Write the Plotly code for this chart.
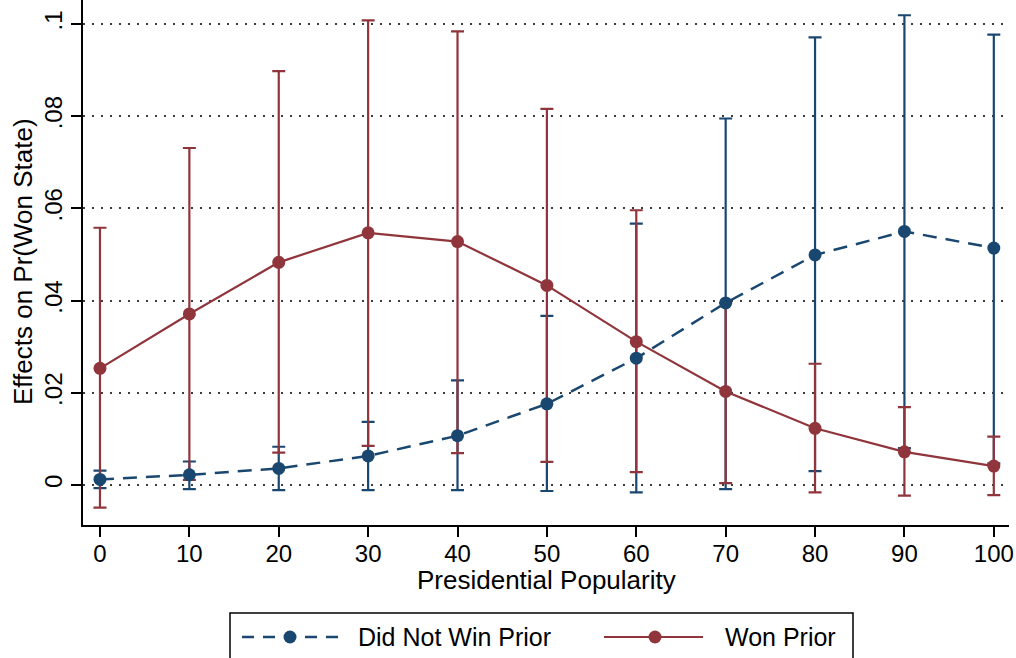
import plotly.graph_objects as go

# ---- data ----
popularity = [0, 10, 20, 30, 40, 50, 60, 70, 80, 90, 100]

notwin_est = [0.0012, 0.0022, 0.0036, 0.0063, 0.0107, 0.0176, 0.0275, 0.0395, 0.0499, 0.0550, 0.0514]
notwin_hi = [0.0031, 0.0051, 0.0083, 0.0137, 0.0227, 0.0367, 0.0567, 0.0795, 0.0971, 0.1019, 0.0977]
notwin_lo = [-0.0007, -0.0009, -0.0011, -0.0011, -0.0011, -0.0013, -0.0016, -0.0009, 0.0030, 0.0080, 0.0047]

won_est = [0.0253, 0.0371, 0.0483, 0.0547, 0.0528, 0.0433, 0.0311, 0.0203, 0.0123, 0.0072, 0.0041]
won_hi = [0.0558, 0.0731, 0.0898, 0.1008, 0.0984, 0.0816, 0.0596, 0.0395, 0.0263, 0.0169, 0.0105]
won_lo = [-0.0049, 0.0011, 0.0070, 0.0085, 0.0069, 0.0050, 0.0028, 0.0004, -0.0016, -0.0023, -0.0022]

y_ticks = [0, 0.02, 0.04, 0.06, 0.08, 0.1]
y_ticklabels = ["0", ".02", ".04", ".06", ".08", ".1"]
x_ticks = [0, 10, 20, 30, 40, 50, 60, 70, 80, 90, 100]

series_names = ["Did Not Win Prior", "Won Prior"]

NAVY = "rgb(26,71,111)"
MAROON = "rgb(144,53,59)"
FONT = "Liberation Sans, Arial, Helvetica, sans-serif"

fig = go.Figure()

def bars(est, hi, lo, color):
    return go.Scatter(
        x=popularity, y=est, mode="markers",
        marker=dict(size=1, color="rgba(0,0,0,0)"),
        error_y=dict(type="data", symmetric=False,
                     array=[h - e for h, e in zip(hi, est)],
                     arrayminus=[e - l for e, l in zip(est, lo)],
                     color=color, thickness=2.2, width=6.5),
        hoverinfo="skip", showlegend=False)

fig.add_trace(bars(notwin_est, notwin_hi, notwin_lo, NAVY))
fig.add_trace(bars(won_est, won_hi, won_lo, MAROON))

fig.add_trace(go.Scatter(
    x=popularity, y=notwin_est, mode="lines+markers", name=series_names[0],
    line=dict(color=NAVY, width=2.5, dash="14px,9px"),
    marker=dict(size=13, color=NAVY), showlegend=False))
fig.add_trace(go.Scatter(
    x=popularity, y=won_est, mode="lines+markers", name=series_names[1],
    line=dict(color=MAROON, width=2.2),
    marker=dict(size=13, color=MAROON), showlegend=False))

# plot area geometry (pixels)
L, R, T, B = 83, 1009, 0, 525
W, H = R - L, B - T

def px(xp):
    return (xp - L) / W

def py(yp):
    return (B - yp) / H

fig.update_layout(
    width=1016, height=658,
    margin=dict(l=L, r=1016 - R, t=T, b=658 - B, autoexpand=False),
    paper_bgcolor="white", plot_bgcolor="white",
    font=dict(family=FONT, color="black"),
    showlegend=False,
)

fig.update_xaxes(
    range=[-1.9, 101.7], tickvals=x_ticks, ticktext=[str(v) for v in x_ticks],
    showline=True, linecolor="black", linewidth=1.5,
    ticks="outside", ticklen=10, tickwidth=1.5, tickcolor="black",
    ticklabelstandoff=-4,
    tickfont=dict(size=24, family=FONT), showgrid=False, zeroline=False,
    automargin=False,
)
fig.update_yaxes(
    range=[-0.00868, 0.10521], tickvals=y_ticks, ticktext=y_ticklabels,
    tickangle=-90,
    showline=True, linecolor="black", linewidth=1.5,
    ticks="outside", ticklen=10, tickwidth=1.5, tickcolor="black",
    tickfont=dict(size=24, family=FONT),
    showgrid=True, gridcolor="rgb(60,60,60)", gridwidth=1.5, griddash="2px,7px",
    zeroline=False, automargin=False,
)

annotations = [
    dict(text="Presidential Popularity", xref="paper", yref="paper",
         x=0.5, y=py(580), xanchor="center", yanchor="middle",
         showarrow=False, font=dict(size=26, family=FONT)),
    dict(text="Effects on Pr(Won State)", xref="paper", yref="paper",
         x=px(23), y=py(262), xanchor="center", yanchor="middle", textangle=-90,
         showarrow=False, font=dict(size=26, family=FONT)),
    dict(text=series_names[0], xref="paper", yref="paper",
         x=px(356), y=py(637), xanchor="left", yanchor="middle",
         showarrow=False, font=dict(size=25, family=FONT)),
    dict(text=series_names[1], xref="paper", yref="paper",
         x=px(723), y=py(637), xanchor="left", yanchor="middle",
         showarrow=False, font=dict(size=25, family=FONT)),
]

r = 6.5
shapes = [
    dict(type="rect", xref="paper", yref="paper",
         x0=px(230), x1=px(853), y0=py(613), y1=py(672),
         line=dict(color="black", width=1.5), fillcolor="white", layer="below"),
    dict(type="line", xref="paper", yref="paper",
         x0=px(242), x1=px(339), y0=py(637), y1=py(637),
         line=dict(color=NAVY, width=2.5, dash="12px,9px")),
    dict(type="circle", xref="paper", yref="paper",
         x0=px(290 - r), x1=px(290 + r), y0=py(637 + r), y1=py(637 - r),
         line=dict(color=NAVY, width=0), fillcolor=NAVY),
    dict(type="line", xref="paper", yref="paper",
         x0=px(604), x1=px(703), y0=py(637), y1=py(637),
         line=dict(color=MAROON, width=2.2)),
    dict(type="circle", xref="paper", yref="paper",
         x0=px(655 - r), x1=px(655 + r), y0=py(637 + r), y1=py(637 - r),
         line=dict(color=MAROON, width=0), fillcolor=MAROON),
]

fig.update_layout(annotations=annotations, shapes=shapes)

fig.write_html(
    "out.html",
    config={"displayModeBar": False},
    post_script="document.body.style.margin='0';document.body.style.overflow='hidden';",
)
